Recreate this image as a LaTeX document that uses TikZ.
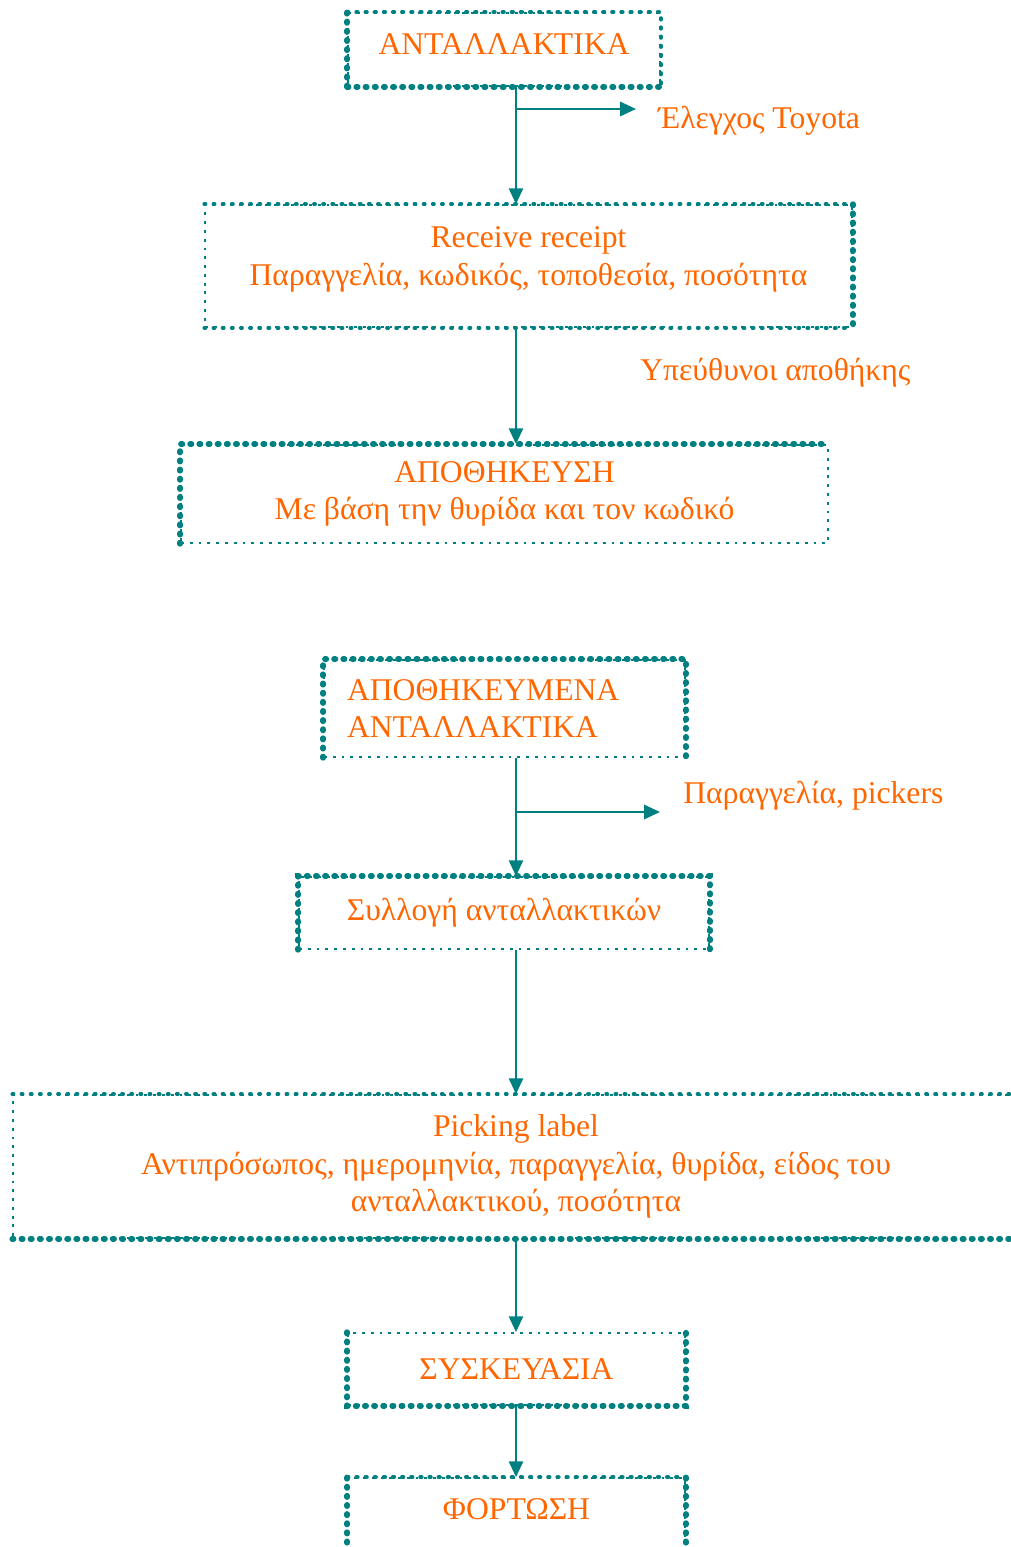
\documentclass[tikz,border=0pt]{standalone}
\usepackage{fontspec}
\setmainfont{Liberation Serif}
\usepackage{tikz}
\usetikzlibrary{arrows.meta, positioning}

\definecolor{flowteal}{RGB}{0,128,128}
\definecolor{flowtext}{RGB}{255,102,0}

\tikzset{
    stage/.style={draw=flowteal, line width=1pt, dash pattern=on 1.6pt off 3.4pt,
        inner sep=0pt, text=flowtext, align=center, font=\fontsize{18}{21.5}\selectfont},
    thickedge/.style={draw=flowteal, line width=3.2pt, line cap=round, dash pattern=on 0.8pt off 4.4pt},
    flow/.style={draw=flowteal, line width=1.5pt, -{Triangle[length=9pt, width=8pt]}},
    note/.style={text=flowtext, anchor=west, inner sep=0pt, font=\fontsize{18}{21.5}\selectfont}
}

\begin{document}
\begin{tikzpicture}[x=0.02cm, y=-0.02cm]
    \useasboundingbox (0,0) rectangle (1010,1547);

    % Πάνω διάγραμμα
    \node[stage, minimum width=6.24cm, minimum height=1.46cm, text depth=0.2cm] (parts) at (504,49.5) {ΑΝΤΑΛΛΑΚΤΙΚΑ};
    \node[stage, minimum width=12.94cm, minimum height=2.44cm, text depth=0.4cm] (receipt) at (528.5,266) {Receive receipt\\Παραγγελία, κωδικός, τοποθεσία, ποσότητα};
    \node[stage, minimum width=12.94cm, minimum height=1.96cm] (storage) at (504.5,494) {ΑΠΟΘΗΚΕΥΣΗ\\Με βάση την θυρίδα και τον κωδικό};

    % Κάτω διάγραμμα
    \node[stage, align=left, minimum width=7.22cm, minimum height=1.94cm, text width=6.3cm] (stored) at (504.5,708.5) {ΑΠΟΘΗΚΕΥΜΕΝΑ\\ΑΝΤΑΛΛΑΚΤΙΚΑ};
    \node[stage, minimum width=8.2cm, minimum height=1.44cm] (collect) at (504,913) {Συλλογή ανταλλακτικών};
    \node[stage, minimum width=20.12cm, minimum height=2.86cm] (label) at (516,1166.5) {Picking label\\Αντιπρόσωπος, ημερομηνία, παραγγελία, θυρίδα, είδος του\\ανταλλακτικού, ποσότητα};
    \node[stage, minimum width=6.74cm, minimum height=1.44cm] (pack) at (516.5,1369) {ΣΥΣΚΕΥΑΣΙΑ};
    \node[stage, minimum width=6.74cm, minimum height=1.46cm, text depth=0.2cm] (load) at (516.5,1514.5) {ΦΟΡΤΩΣΗ};

    % Παχιές πλευρές πλαισίων
    \draw[thickedge] (parts.south west) -- (parts.south east);
    \draw[thickedge] (parts.south west) -- (parts.north west);
    \draw[thickedge, line width=2.2pt] (parts.north west) -- (parts.north east) -- (parts.south east);
    \draw[thickedge] (receipt.north east) -- (receipt.south east);
    \draw[thickedge, line width=2pt] (receipt.north west) -- (receipt.north east);
    \draw[thickedge, line width=2pt] (receipt.south west) -- (receipt.south east);
    \draw[thickedge] (storage.south west) -- (storage.north west) -- (storage.north east);
    \draw[thickedge] (stored.south west) -- (stored.north west) -- (stored.north east) -- (stored.south east);
    \draw[thickedge] (collect.south west) -- (collect.north west) -- (collect.north east) -- (collect.south east);
    \draw[thickedge] (label.south west) -- (label.south east);
    \draw[thickedge, line width=2pt] (label.north west) -- (label.north east);
    \draw[thickedge] (pack.north west) -- (pack.south west) -- (pack.south east) -- (pack.north east);
    \draw[thickedge] (load.south west) -- (load.north west);
    \draw[thickedge] (load.south east) -- (load.north east);
    \draw[thickedge, line width=2.2pt] (load.north west) -- (load.north east);

    % Άξονας βελών
    \coordinate (spine) at (516,0);
    \coordinate (check) at (516,109);
    \coordinate (checkend) at (636,109);
    \coordinate (order) at (516,812);
    \coordinate (orderend) at (660,812);

    % Βέλη
    \draw[flow] (parts.south -| spine) -- (receipt.north -| spine);
    \draw[flow] (check) -- (checkend);
    \draw[flow] (receipt.south -| spine) -- (storage.north -| spine);
    \draw[flow] (stored.south -| spine) -- (collect.north -| spine);
    \draw[flow] (order) -- (orderend);
    \draw[flow] (collect.south -| spine) -- (label.north -| spine);
    \draw[flow] (label.south -| spine) -- (pack.north -| spine);
    \draw[flow] (pack.south -| spine) -- (load.north -| spine);

    % Σημειώσεις
    \node[note] (toyota) at (658,121) {Έλεγχος Toyota};
    \node[note] (keepers) at (640,373) {Υπεύθυνοι αποθήκης};
    \node[note] (pickers) at (683,796) {Παραγγελία, pickers};
\end{tikzpicture}
\end{document}
